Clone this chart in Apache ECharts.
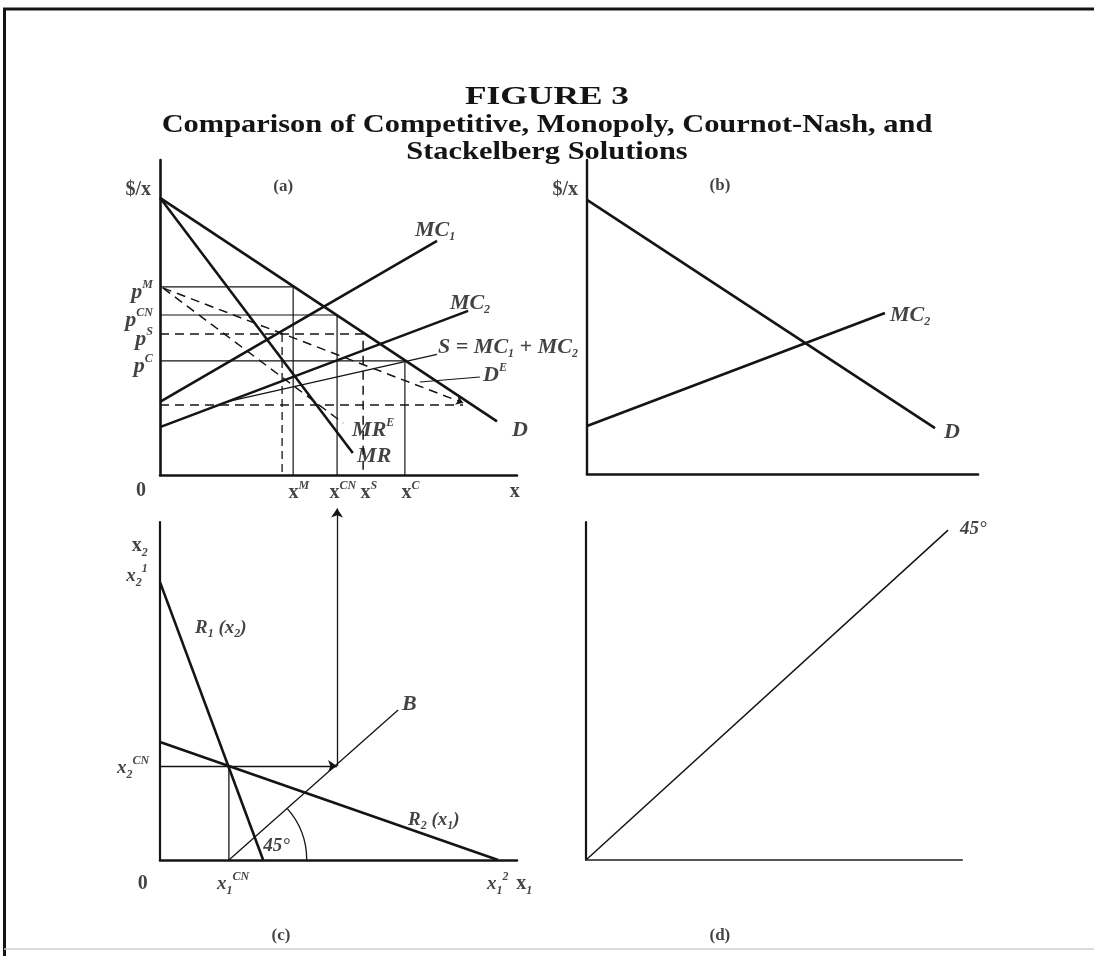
<!DOCTYPE html>
<html>
<head>
<meta charset="utf-8">
<script src="https://cdn.jsdelivr.net/npm/echarts@6/dist/echarts.min.js"></script>
<style>
  html, body { margin: 0; padding: 0; background: #fff; }
  #chart { width: 1094px; height: 956px; }
</style>
</head>
<body>
<div id="chart"></div>
<script>
const INK = '#141414';
const SERIF = '"Liberation Serif", "DejaVu Serif", serif';

const titleLines = [
  'FIGURE 3',
  'Comparison of Competitive, Monopoly, Cournot-Nash, and',
  'Stackelberg Solutions'
];

// ---- panel (a): industry demand, marginal revenue and marginal costs ----
const demandA = [[0, 88], [94.4, 17]];
const marginalRevenueA = [[0, 88], [54, 7]];
const marginalCost1A = [[0, 23.2], [77.6, 74.3]];
const marginalCost2A = [[0, 15.2], [86.3, 52.1]];
const supplyA = [[18.6, 23.2], [77.6, 38.3]];          // S = MC1 + MC2 beyond the kink
const residualDemandA = [[0.8, 59.4], [84.9, 22.9]];   // D^E
const residualMrA = [[0.8, 59.4], [51.3, 16.5]];       // MR^E
const residualFloorA = [[0, 22.2], [84.9, 22.2]];
const leaderQtyA = 34.2;
const pointerDE = [[89.6, 31.1], [72.8, 29.5]];

// solutions: monopoly, Cournot-Nash, Stackelberg, competitive
const solutionQty = [37.3, 49.6, 56.9, 68.6];
const solutionPrice = [59.7, 50.8, 44.8, 36.2];
const solutionDashed = [false, false, true, false];
const priceTickLabels = ['{i|p}{sup|M}', '{i|p}{sup|CN}', '{i|p}{sup|S}', '{i|p}{sup|C}'];
const qtyTickLabels = ['{b|x}{sup|M}', '{b|x}{sup|CN}', '{b|x}{sup|S}', '{b|x}{sup|C}'];

// ---- panel (b) ----
const demandB = [[0, 87.3], [89, 14.6]];
const marginalCost2B = [[0, 15.3], [76.2, 51.3]];

// ---- panel (c): reaction functions ----
const reaction1C = [[0, 82.2], [28.9, 0]];
const reaction2C = [[0, 34.9], [94.7, 0]];
const cournotC = [19.3, 27.8];
const bisectorC = [[19.3, 0], [66.7, 44.4]];
const transferHC = [[0, 27.8], [49.6, 27.8]];
const transferVC = [[49.6, 27.8], [49.6, 104]];
const arcRadiusC = 21.8;

// ---- panel (d) ----
const diagonalD = [[0, 0], [96.3, 97.6]];

// text labels: [x, y, text, anchor]  (l = starts at point, r = ends at point, c = centred)
const labelsA = [
  [-2.5, 90.5, '{b|$/x}', 'r'],
  [34.5, 91.7, '{n|(a)}', 'c'],
  [71.4, 77.8, '{i|MC}{sub|1}', 'l'],
  [81.2, 54.6, '{i|MC}{sub|2}', 'l'],
  [77.9, 40.6, '{i|S = MC}{sub|1}{i| + MC}{sub|2}', 'l'],
  [90.5, 31.7, '{i|D}{sup|E}', 'l'],
  [98.6, 14.3, '{i|D}', 'l'],
  [53.8, 14.3, '{i|MR}{sup|E}', 'l'],
  [55.2, 6.0, '{i|MR}', 'l'],
  [-5.3, -5.1, '{b|0}', 'c'],
  [99.4, -5.4, '{b|x}', 'c']
];
const labelsB = [
  [-2.3, 90.4, '{b|$/x}', 'r'],
  [34.0, 91.7, '{n|(b)}', 'c'],
  [77.5, 50.6, '{i|MC}{sub|2}', 'l'],
  [91.3, 13.4, '{i|D}', 'l']
];
const labelsC = [
  [-3.4, 92.9, '{b|x}{sub|2}', 'r'],
  [-3.4, 84.0, '{x|x}{sub|2}{sup|1}', 'r'],
  [-3.0, 27.2, '{x|x}{sub|2}{sup|CN}', 'r'],
  [-4.8, -7.1, '{b|0}', 'c'],
  [20.5, -7.1, '{x|x}{sub|1}{sup|CN}', 'c'],
  [94.6, -7.1, '{x|x}{sub|1}{sup|2}', 'c'],
  [102, -7.1, '{b|x}{sub|1}', 'c'],
  [9.8, 68.6, '{r|R}{sub|1}{r| (x}{sub|2}{r|)}', 'l'],
  [69.5, 11.8, '{r|R}{sub|2}{r| (x}{sub|1}{r|)}', 'l'],
  [67.8, 46.2, '{i|B}', 'l'],
  [28.9, 4.1, '{r|45°}', 'l'],
  [33.9, -22.5, '{n|(c)}', 'c']
];
const labelsD = [
  [99.5, 97.9, '{r|45°}', 'l'],
  [35.6, -22.5, '{n|(d)}', 'c']
];

const rich = {
  i:   { fontFamily: SERIF, fontStyle: 'italic', fontWeight: 'bold', fontSize: 22, lineHeight: 26, color: INK },
  b:   { fontFamily: SERIF, fontWeight: 'bold', fontSize: 20, lineHeight: 26, color: INK },
  x:   { fontFamily: SERIF, fontStyle: 'italic', fontWeight: 'bold', fontSize: 19, lineHeight: 26, color: INK },
  r:   { fontFamily: SERIF, fontStyle: 'italic', fontWeight: 'bold', fontSize: 19, lineHeight: 24, color: INK },
  n:   { fontFamily: SERIF, fontWeight: 'bold', fontSize: 17, lineHeight: 20, color: INK },
  sup: { fontFamily: SERIF, fontStyle: 'italic', fontWeight: 'bold', fontSize: 12, lineHeight: 13, verticalAlign: 'top', color: INK },
  sub: { fontFamily: SERIF, fontStyle: 'italic', fontWeight: 'bold', fontSize: 12, lineHeight: 13, verticalAlign: 'bottom', color: INK }
};

const THICK = 2.6, THIN = 1.3;
const DASH = [9, 6];

function seg(g, data, width, dash, color) {
  return {
    type: 'line', xAxisIndex: g, yAxisIndex: g, data: data,
    symbol: 'none', silent: true, animation: false, clip: false,
    lineStyle: { color: color || INK, width: width, type: dash || 'solid' }
  };
}
function arrow(g, data, width, dash, size) {
  return {
    type: 'lines', coordinateSystem: 'cartesian2d', xAxisIndex: g, yAxisIndex: g,
    polyline: false, silent: true, animation: false, clip: false,
    symbol: ['none', 'arrow'], symbolSize: size || 9,
    lineStyle: { color: INK, width: width, type: dash || 'solid', opacity: 1 },
    data: [{ coords: data }]
  };
}
function textLayer(g, list) {
  const pos = { l: 'right', r: 'left', c: 'inside' };
  return {
    type: 'scatter', xAxisIndex: g, yAxisIndex: g, silent: true, animation: false, clip: false,
    symbolSize: 0, itemStyle: { color: 'transparent' },
    label: { show: true, rich: rich, formatter: p => p.data.text, distance: 0, color: INK },
    data: list.map(d => ({ value: [d[0], d[1]], text: d[2], label: { position: pos[d[3]] } }))
  };
}
function axis(g, color, width) {
  return {
    type: 'value', gridIndex: g, min: 0, max: 100,
    axisLine: { show: true, onZero: false, lineStyle: { color: color, width: width } },
    axisTick: { show: false }, axisLabel: { show: false }, splitLine: { show: false }
  };
}

const series = [];
// panel (a)
series.push(seg(0, demandA, THICK));
series.push(seg(0, marginalRevenueA, THICK));
series.push(seg(0, marginalCost1A, THICK));
series.push(seg(0, marginalCost2A, THICK));
series.push(seg(0, supplyA, THIN));
series.push(seg(0, residualMrA, 1.5, DASH));
series.push(arrow(0, residualDemandA, 1.5, DASH, 7));
series.push(seg(0, residualFloorA, 1.5, DASH));
series.push(seg(0, [[leaderQtyA, solutionPrice[2]], [leaderQtyA, 0]], 1.3, [8, 5]));
series.push(seg(0, pointerDE, 1.1));
solutionQty.forEach((q, k) => {
  const dash = solutionDashed[k] ? DASH : null;
  series.push(seg(0, [[0, solutionPrice[k]], [q, solutionPrice[k]], [q, 0]], solutionDashed[k] ? 1.5 : 1.2, dash));
});
series.push(textLayer(0, labelsA
  .concat(solutionPrice.map((p, k) => [-2, p - 1.6, priceTickLabels[k], 'r']))
  .concat(solutionQty.map((q, k) => [q + 1.6, -5.6, qtyTickLabels[k], 'c']))));

// panel (b)
series.push(seg(1, demandB, THICK));
series.push(seg(1, marginalCost2B, THICK));
series.push(textLayer(1, labelsB));

// panel (c)
series.push(seg(2, reaction1C, THICK));
series.push(seg(2, reaction2C, THICK));
series.push(seg(2, bisectorC, THIN));
series.push(seg(2, [cournotC, [cournotC[0], 0]], THIN));
series.push(arrow(2, transferHC, THIN, null, 9));
series.push(arrow(2, transferVC, THIN, null, 9));
series.push({
  type: 'custom', xAxisIndex: 2, yAxisIndex: 2, silent: true, animation: false, clip: false,
  data: [[bisectorC[0][0], bisectorC[0][1], arcRadiusC]],
  renderItem: function (params, api) {
    const c = api.coord([api.value(0), api.value(1)]);
    const r = api.size([api.value(2), 0])[0];
    const tip = api.coord(bisectorC[1]);
    const ang = Math.atan2(tip[1] - c[1], tip[0] - c[0]);
    return {
      type: 'arc',
      shape: { cx: c[0], cy: c[1], r: r, startAngle: ang, endAngle: 0, clockwise: true },
      style: { stroke: INK, fill: 'none', lineWidth: 1.3 }
    };
  }
});
series.push(textLayer(2, labelsC));

// panel (d)
series.push(seg(3, diagonalD, 1.5));
series.push(textLayer(3, labelsD));

// heading: three centred lines in a wide bold serif
const titleY = [97, 125, 152];
const titleSize = [26, 26, 26];
const titleStretch = [1.36, 1.17, 1.17];
const heading = titleLines.map((t, k) => ({
  type: 'text', x: 547, y: titleY[k], scaleX: titleStretch[k], silent: true,
  style: {
    text: t, fill: INK, align: 'center', verticalAlign: 'middle',
    fontFamily: SERIF, fontWeight: 'bold', fontSize: titleSize[k]
  }
}));

const option = {
  backgroundColor: '#fff',
  animation: false,
  grid: [
    { left: 160, top: 160, width: 357, height: 315 },
    { left: 587, top: 160, width: 391, height: 314 },
    { left: 160, top: 522, width: 357, height: 338 },
    { left: 586, top: 522, width: 376, height: 338 }
  ],
  xAxis: [axis(0, INK, 2.6), axis(1, INK, 2.6), axis(2, INK, 2.6), axis(3, '#555', 2.2)],
  yAxis: [axis(0, INK, 2.6), axis(1, INK, 2.4), axis(2, INK, 2.2), axis(3, INK, 2.2)],
  graphic: heading.concat([
    { type: 'line', shape: { x1: 3, y1: 9, x2: 1094, y2: 9 }, style: { stroke: INK, lineWidth: 3 }, silent: true },
    { type: 'line', shape: { x1: 4.5, y1: 8, x2: 4.5, y2: 956 }, style: { stroke: INK, lineWidth: 3 }, silent: true },
    { type: 'line', shape: { x1: 4, y1: 949, x2: 1094, y2: 949 }, style: { stroke: '#cfcfcf', lineWidth: 1.5 }, silent: true }
  ]),
  series: series
};

const chart = echarts.init(document.getElementById('chart'), null, { renderer: 'canvas' });
chart.setOption(option);
</script>
</body>
</html>
